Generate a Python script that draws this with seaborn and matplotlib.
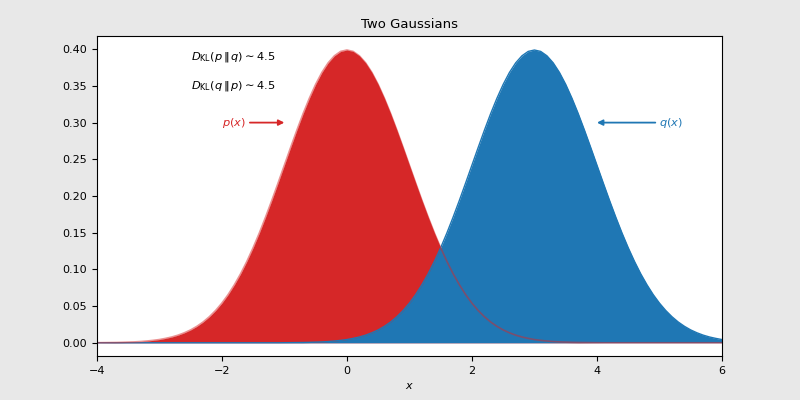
import numpy as np
import pandas as pd
import matplotlib
matplotlib.use("Agg")
import matplotlib.pyplot as plt
import seaborn as sns

x_values = np.round(np.linspace(-4, 6, 101), 1)
p_values = [0.0001, 0.0002, 0.0003, 0.0004, 0.0006, 0.0009, 0.0012, 0.0017, 0.0024, 0.0033,
            0.0044, 0.0060, 0.0079, 0.0104, 0.0136, 0.0175, 0.0224, 0.0283, 0.0355, 0.0440,
            0.0540, 0.0656, 0.0790, 0.0940, 0.1109, 0.1295, 0.1497, 0.1714, 0.1942, 0.2179,
            0.2420, 0.2661, 0.2897, 0.3123, 0.3332, 0.3521, 0.3683, 0.3814, 0.3910, 0.3970,
            0.3989,
            0.3970, 0.3910, 0.3814, 0.3683, 0.3521, 0.3332, 0.3123, 0.2897, 0.2661, 0.2420,
            0.2179, 0.1942, 0.1714, 0.1497, 0.1295, 0.1109, 0.0940, 0.0790, 0.0656, 0.0540,
            0.0440, 0.0355, 0.0283, 0.0224, 0.0175, 0.0136, 0.0104, 0.0079, 0.0060, 0.0044,
            0.0033, 0.0024, 0.0017, 0.0012, 0.0009, 0.0006, 0.0004, 0.0003, 0.0002, 0.0001,
            0, 0, 0, 0, 0, 0, 0, 0, 0, 0,
            0, 0, 0, 0, 0, 0, 0, 0, 0, 0]
q_values = [0, 0, 0, 0, 0, 0, 0, 0, 0, 0,
            0, 0, 0, 0, 0, 0, 0, 0, 0, 0,
            0, 0, 0, 0, 0, 0, 0, 0, 0, 0,
            0.0001, 0.0002, 0.0003, 0.0004, 0.0006, 0.0009, 0.0012, 0.0017, 0.0024, 0.0033,
            0.0044, 0.0060, 0.0079, 0.0104, 0.0136, 0.0175, 0.0224, 0.0283, 0.0355, 0.0440,
            0.0540, 0.0656, 0.0790, 0.0940, 0.1109, 0.1295, 0.1497, 0.1714, 0.1942, 0.2179,
            0.2420, 0.2661, 0.2897, 0.3123, 0.3332, 0.3521, 0.3683, 0.3814, 0.3910, 0.3970,
            0.3989,
            0.3970, 0.3910, 0.3814, 0.3683, 0.3521, 0.3332, 0.3123, 0.2897, 0.2661, 0.2420,
            0.2179, 0.1942, 0.1714, 0.1497, 0.1295, 0.1109, 0.0940, 0.0790, 0.0656, 0.0540,
            0.0440, 0.0355, 0.0283, 0.0224, 0.0175, 0.0136, 0.0104, 0.0079, 0.0060, 0.0044]
title = "Two Gaussians"
kl_pq = 4.5
kl_qp = 4.5

df = pd.DataFrame({"x": x_values, "p": p_values, "q": q_values})

fig, ax = plt.subplots(figsize=(8, 4), dpi=100)
fig.patch.set_facecolor("#e8e8e8")
fig.subplots_adjust(left=0.121, right=0.9025, bottom=0.11, top=0.91)

red = "#d62728"
blue = "#1f77b4"
ax.fill_between(df["x"], df["p"], color=red, lw=0)
ax.fill_between(df["x"], df["q"], color=blue, lw=0)
sns.lineplot(data=df, x="x", y="q", ax=ax, color=blue, lw=1.0)
sns.lineplot(data=df, x="x", y="p", ax=ax, color=red, lw=1.2, alpha=0.5)

ax.set_xlim(-4, 6)
ax.set_ylim(-0.018, 0.418)
ax.set_xticks([-4, -2, 0, 2, 4, 6])
ax.set_yticks([0.0, 0.05, 0.10, 0.15, 0.20, 0.25, 0.30, 0.35, 0.40])
ax.set_xlabel("$x$", fontsize=8)
ax.set_ylabel("")
ax.set_title(title, fontsize=9.5)
ax.tick_params(labelsize=8)

ax.text(-2.5, 0.39, r"$D_{\mathrm{KL}}(p\,\|\,q) \sim %.1f$" % kl_pq, fontsize=8.2, va="center")
ax.text(-2.5, 0.35, r"$D_{\mathrm{KL}}(q\,\|\,p) \sim %.1f$" % kl_qp, fontsize=8.2, va="center")
ax.annotate("$p(x)$", xy=(-1.0, 0.30), xytext=(-2.0, 0.30), color=red, fontsize=8.2,
            va="center", ha="left",
            arrowprops=dict(arrowstyle="-|>", color=red, lw=1.3, shrinkA=1, shrinkB=0))
ax.annotate("$q(x)$", xy=(4.0, 0.30), xytext=(5.0, 0.30), color=blue, fontsize=8.2,
            va="center", ha="left",
            arrowprops=dict(arrowstyle="-|>", color=blue, lw=1.3, shrinkA=1, shrinkB=0))

fig.savefig("out.png", dpi=100, facecolor=fig.get_facecolor())
